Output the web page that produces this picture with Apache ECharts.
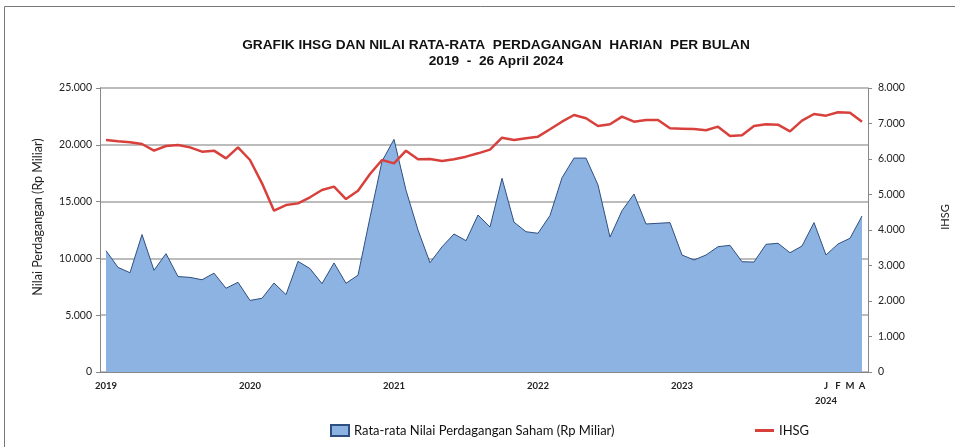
<!DOCTYPE html>
<html>
<head>
<meta charset="utf-8">
<script src="https://cdn.jsdelivr.net/npm/echarts@6/dist/echarts.min.js"></script>
<style>
  html, body { margin: 0; padding: 0; background: #fff; }
  #chart { width: 955px; height: 447px; }
</style>
</head>
<body>
<div id="chart"></div>
<script>
// bulan: Jan 2019 .. Apr 2024
const years = [2019, 2020, 2021, 2022, 2023, 2024];
const months = [];
years.forEach(function (y) {
  const n = y === 2024 ? 4 : 12;
  for (let m = 1; m <= n; m++) months.push(y + '-' + (m < 10 ? '0' + m : m));
});

// label sumbu x
const tickLabels = {
  '2019-01': '2019', '2020-01': '2020', '2021-01': '2021',
  '2022-01': '2022', '2023-01': '2023',
  '2024-01': 'J\n2024', '2024-02': 'F', '2024-03': 'M', '2024-04': 'A'
};

// rata-rata nilai perdagangan saham (Rp miliar)
const nilai = [
  10680, 9210, 8740, 12100, 8950, 10420, 8400, 8330, 8120, 8700, 7370, 7900,
  6300, 6490, 7830, 6810, 9740, 9100, 7780, 9600, 7810, 8520, 13600, 18550,
  20480, 16000, 12500, 9620, 11020, 12150, 11560, 13820, 12760, 17050, 13190, 12350,
  12210, 13780, 17100, 18830, 18830, 16460, 11880, 14200, 15670, 13030, 13090, 13150,
  10300, 9860, 10300, 11030, 11150, 9710, 9680, 11240, 11330, 10500, 11090, 13150,
  10300, 11270, 11770, 13730
];

// IHSG
const ihsg = [
  6535, 6500, 6470, 6423, 6235, 6366, 6394, 6328, 6206, 6235, 6019, 6328,
  5972, 5315, 4544, 4704, 4750, 4921, 5127, 5221, 4873, 5108, 5578, 5972,
  5878, 6235, 5991, 6000, 5944, 5991, 6066, 6160, 6265, 6600, 6535, 6582,
  6629, 6837, 7051, 7240, 7146, 6930, 6977, 7193, 7051, 7099, 7099, 6864,
  6855, 6845, 6808, 6911, 6648, 6667, 6930, 6977, 6968, 6780, 7080, 7268,
  7221, 7315, 7306, 7051
];

function ribuan(v) {
  return v === 0 ? '0' : (v / 1000).toFixed(3);
}

const font = 'Lato, "Open Sans", sans-serif';

let chart = echarts.init(document.getElementById('chart'));
chart.setOption({
  animation: false,
  title: {
    text: 'GRAFIK IHSG DAN NILAI RATA-RATA  PERDAGANGAN  HARIAN  PER BULAN\n2019  -  26 April 2024',
    left: 491,
    top: 32,
    textAlign: 'center',
    textStyle: {
      fontFamily: '"Liberation Sans", Arial, sans-serif',
      fontWeight: 'bold', fontSize: 13.7, lineHeight: 16, color: '#111'
    }
  },
  graphic: [{
    type: 'rect',
    shape: { x: 4.5, y: 6.5, width: 1000, height: 600 },
    style: { fill: 'none', stroke: '#777', lineWidth: 1 }
  }],
  legend: [{
    left: 330, top: 424, padding: 0,
    itemWidth: 18, itemHeight: 11,
    icon: 'rect',
    data: ['Rata-rata Nilai Perdagangan Saham (Rp Miliar)'],
    textStyle: { fontFamily: font, fontSize: 13, color: '#111' }
  }, {
    left: 755, top: 424, padding: 0,
    itemWidth: 19, itemHeight: 3,
    icon: 'rect',
    data: ['IHSG'],
    textStyle: { fontFamily: font, fontSize: 13, color: '#111' }
  }],
  grid: { left: 100, right: 87, top: 88, bottom: 75, containLabel: false, outerBoundsMode: 'none' },
  xAxis: {
    type: 'category',
    data: months,
    boundaryGap: true,
    axisLine: { lineStyle: { color: '#888' } },
    axisTick: { interval: 0, length: 4, lineStyle: { color: '#888' } },
    axisLabel: {
      interval: 0, margin: 6,
      fontFamily: font, fontSize: 9.5, fontWeight: 'bold', color: '#222', lineHeight: 15,
      formatter: function (v) { return tickLabels[v] || ''; }
    }
  },
  yAxis: [{
    type: 'value',
    min: 0, max: 25000, interval: 5000,
    name: 'Nilai Perdagangan (Rp Miliar)',
    nameLocation: 'middle',
    nameRotate: 90,
    nameGap: 56,
    nameTextStyle: { fontFamily: font, fontSize: 12.5, color: '#222', padding: [0, 0, 0, 26] },
    axisLine: { show: true, lineStyle: { color: '#888' } },
    axisTick: { show: true, length: 4, lineStyle: { color: '#888' } },
    axisLabel: { fontFamily: font, fontSize: 10.5, color: '#222', margin: 8, formatter: ribuan },
    splitLine: { lineStyle: { color: '#a6a6a6', width: 1.5 } }
  }, {
    type: 'value',
    min: 0, max: 8000, interval: 1000,
    name: 'IHSG',
    nameLocation: 'middle',
    nameRotate: 90,
    nameGap: 72,
    nameTextStyle: { fontFamily: font, fontSize: 11, color: '#222', padding: [0, 0, 0, 26] },
    axisLine: { show: true, lineStyle: { color: '#888' } },
    axisTick: { show: true, length: 4, lineStyle: { color: '#888' } },
    axisLabel: { fontFamily: font, fontSize: 10.5, color: '#222', margin: 10, formatter: ribuan },
    splitLine: { show: false }
  }],
  series: [{
    name: 'Rata-rata Nilai Perdagangan Saham (Rp Miliar)',
    type: 'line',
    data: nilai,
    symbol: 'none',
    itemStyle: { color: '#8db3e2', borderColor: '#2f4f80', borderWidth: 1 },
    lineStyle: { color: '#2f4f80', width: 1 },
    areaStyle: { color: '#8db3e2', opacity: 1 },
    z: 2
  }, {
    name: 'IHSG',
    type: 'line',
    yAxisIndex: 1,
    data: ihsg,
    symbol: 'none',
    itemStyle: { color: '#d8403c' },
    lineStyle: { color: '#d8403c', width: 2.5 },
    z: 3
  }]
});
</script>
</body>
</html>
